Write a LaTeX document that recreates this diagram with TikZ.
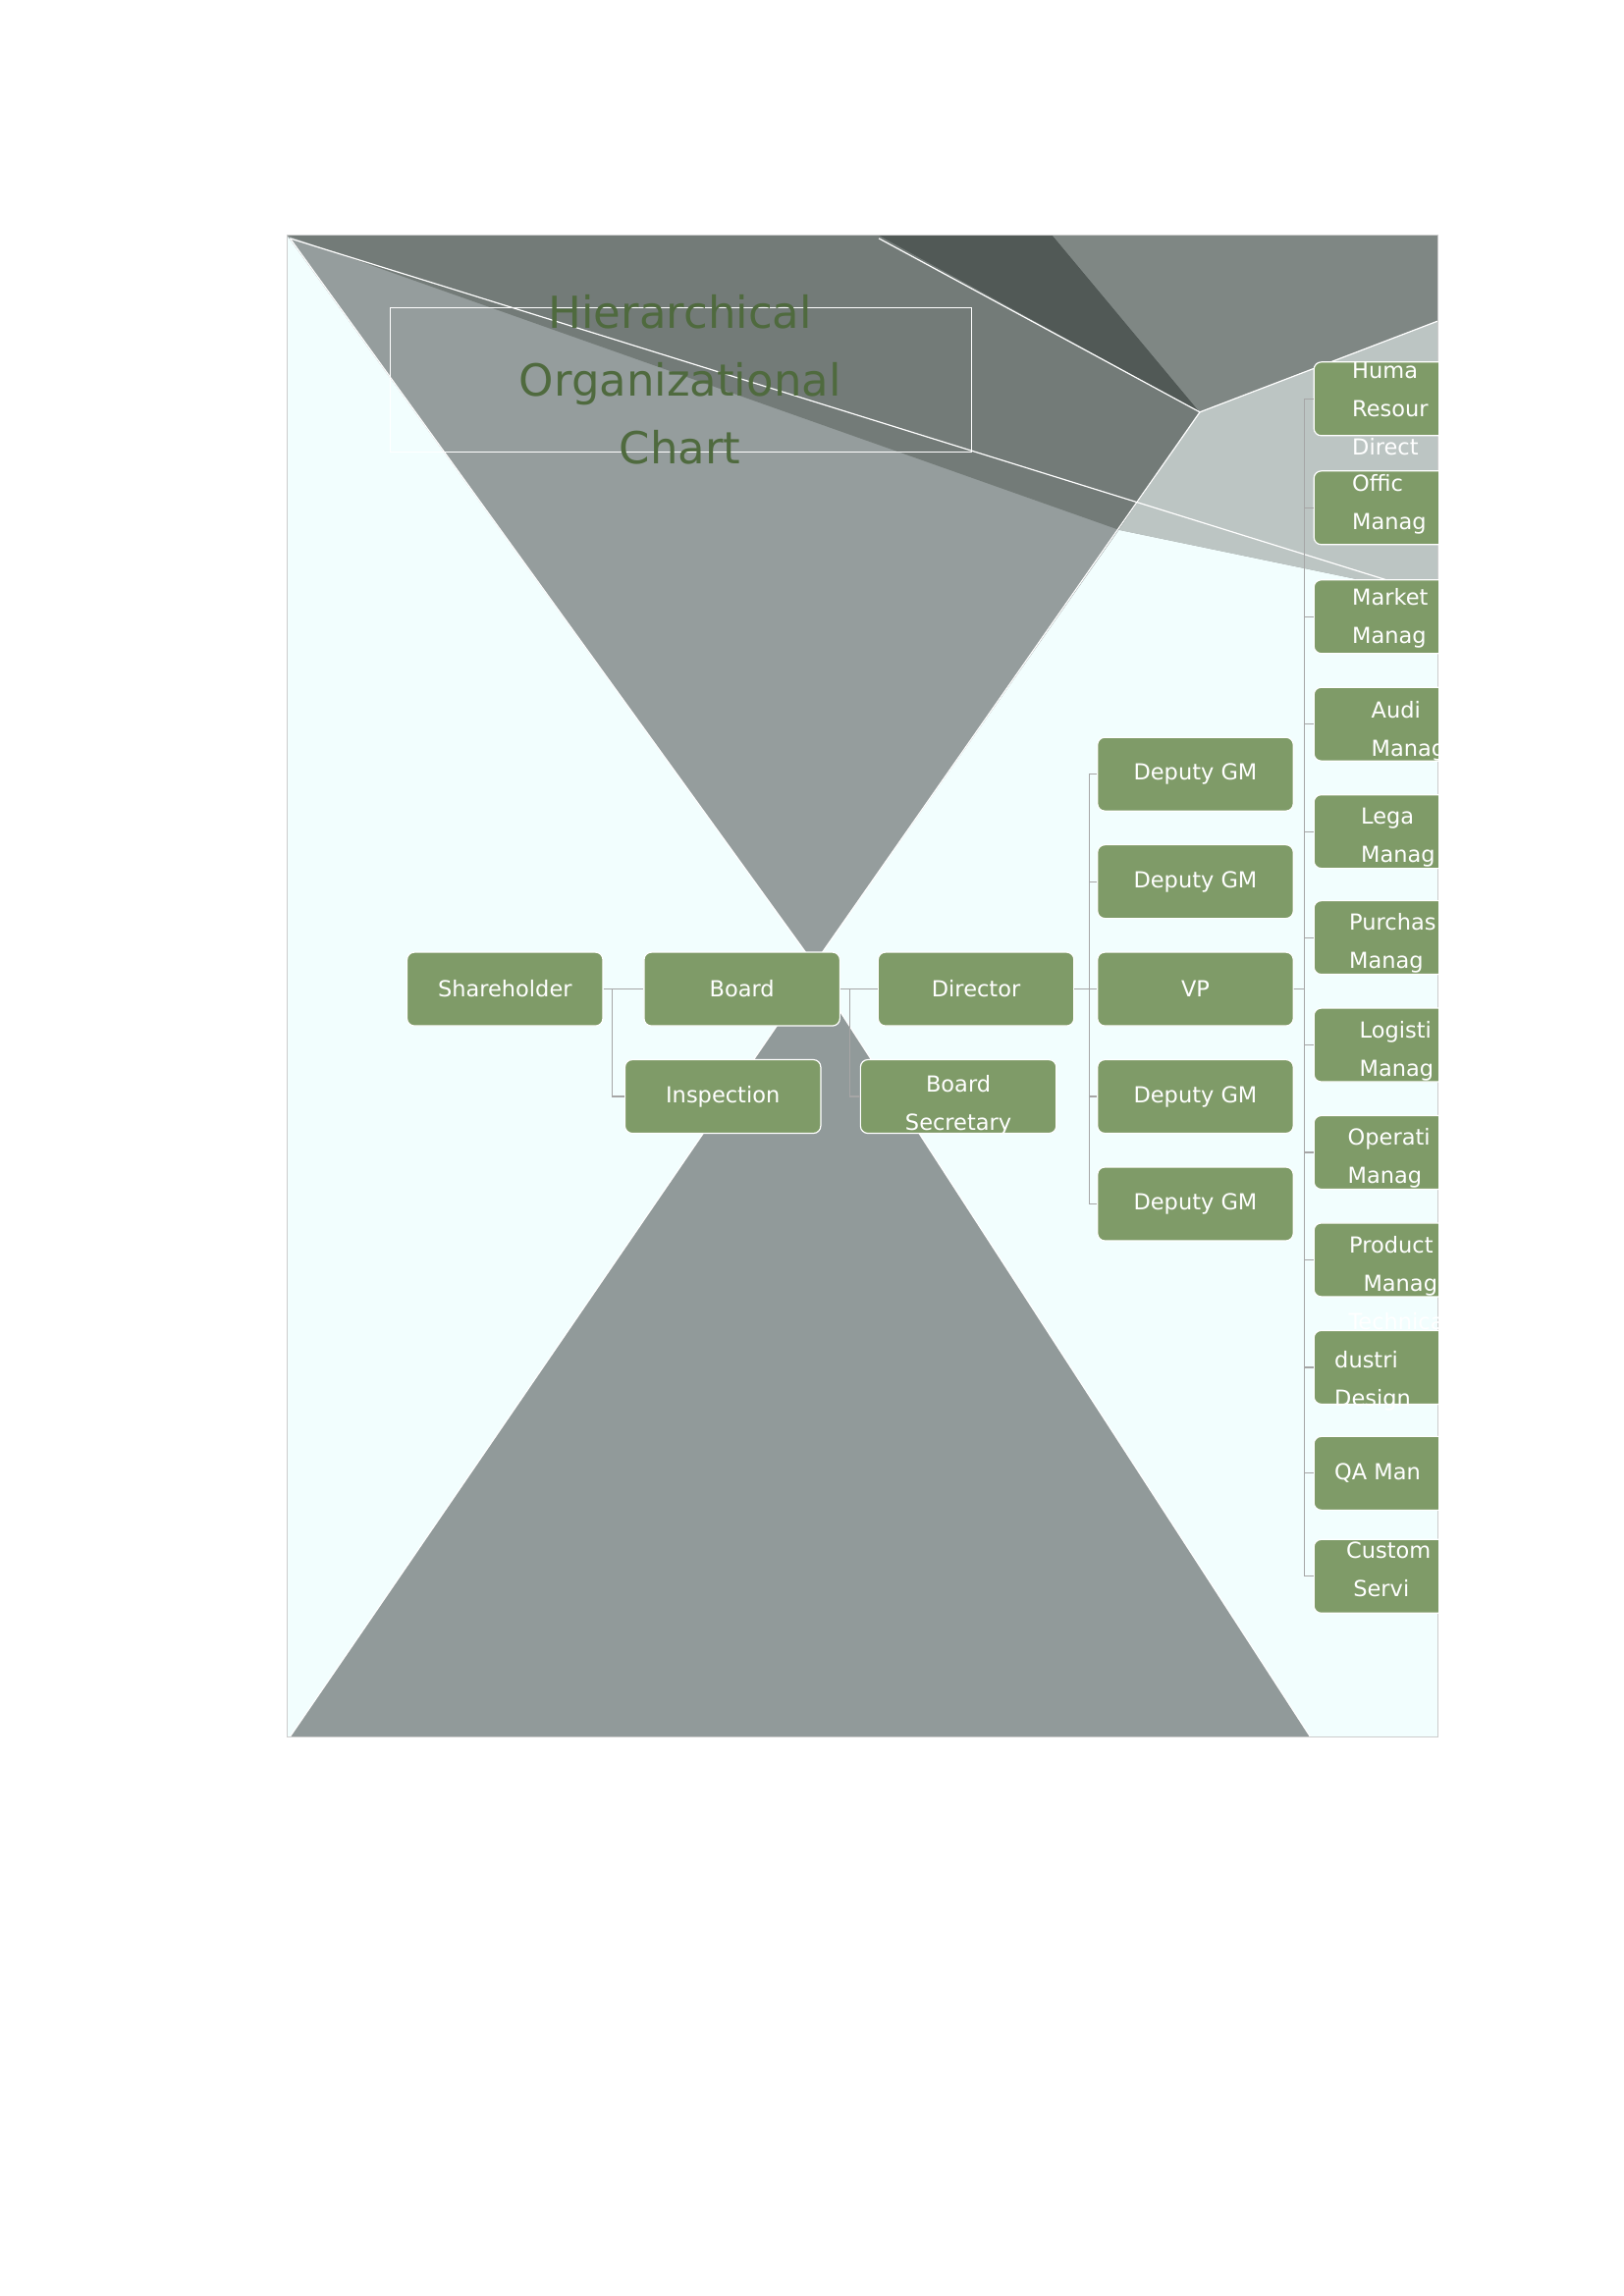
\documentclass[tikz,border=0pt]{standalone}
\usepackage{fontspec}
\setmainfont{DejaVu Sans}
\begin{document}
\begin{tikzpicture}[x=1pt,y=-1pt,
  box/.style={draw=white,line width=0.8pt,fill=green!30!black!50!gray,fill=boxg,rounded corners=5pt,minimum width=133pt,minimum height=50pt,text=white,font=\fontsize{15}{26}\selectfont,align=center,inner sep=0pt},
  conn/.style={draw=gray!70,line width=0.8pt},
  edge/.style={draw=white,line width=0.8pt}]
\definecolor{boxg}{HTML}{7F9B68}
\definecolor{bgc}{HTML}{F2FEFE}
\definecolor{gA}{HTML}{959D9D}
\definecolor{gB}{HTML}{737B78}
\definecolor{gC}{HTML}{515956}
\definecolor{gD}{HTML}{7F8784}
\definecolor{gE}{HTML}{BCC5C3}
\definecolor{gF}{HTML}{919A9A}
\definecolor{titleg}{HTML}{4F6A3E}
\useasboundingbox (0,0) rectangle (1103,1560);
\fill[white] (0,0) rectangle (1103,1560);
\fill[bgc] (195,160) rectangle (977,1180);
\fill[gA] (195,160)--(977,160)--(977,405)--(760,360)--(553,655)--cycle;
\fill[gB] (195,160)--(597,160)--(815,280)--(760,360)--cycle;
\fill[gC] (597,160)--(715,160)--(815,280)--cycle;
\fill[gD] (715,160)--(977,160)--(977,218)--(815,280)--cycle;
\fill[gE] (815,280)--(977,218)--(977,405)--(760,360)--cycle;
\fill[gF] (553,660)--(890,1180)--(197,1180)--cycle;
\draw[edge] (197,162)--(977,405);
\draw[edge] (597,162)--(815,280)--(977,218);
\draw[edge] (815,280)--(553,655)--(197,162);
\draw[edge] (197,1180)--(553,660)--(890,1180);
\draw[gray!40,line width=0.8pt] (195,160) rectangle (977,1180);
% title
\draw[white,line width=0.8pt] (265,209) rectangle (660,307);
\node[text=titleg,font=\fontsize{30}{46}\selectfont,align=center,anchor=north] (title) at (462,197) {Hierarchical\\Organizational\\Chart};
% nodes
\node[box] (sh) at (343,672) {Shareholder};
\node[box] (bd) at (504,672) {Board};
\node[box] (in) at (491,745) {Inspection};
\node[box] (di) at (663,672) {Director};
\node[box,text height=0pt] (bs) at (651,745) {};
\node[text=white,font=\fontsize{15}{26}\selectfont,align=center] (bst) at (651,751) {Board\\Secretary};
\node[box] (vp) at (812,672) {VP};
\node[box] (d1) at (812,526) {Deputy GM};
\node[box] (d2) at (812,599) {Deputy GM};
\node[box] (d3) at (812,745) {Deputy GM};
\node[box] (d4) at (812,818) {Deputy GM};
% connectors
\draw[conn] (sh.east)--(bd.west);
\draw[conn] (sh.east)-|(416,745)--(in.west);
\draw[conn] (bd.east)--(di.west);
\draw[conn] (bd.east)-|(577,745)--(bs.west);
\foreach \n in {vp,d1,d2,d3,d4}{\draw[conn] (di.east)-|(740,0|-\n.west)--(\n.west);}
% right column
\begin{scope}
\clip (0,0) rectangle (977,1560);
\foreach \nm/\y in {r1/271,r2/345,r3/419,r4/492,r5/565,r6/637,r7/710,r8/783,r9/856,r10/929,r11/1001,r12/1071}{
  \node[box] (\nm) at (959,\y) {};
  \draw[conn] (vp.east)-|(886,\y)--(\nm.west);
}
\tikzset{rt/.style={text=white,font=\fontsize{15}{26}\selectfont,align=left,anchor=west}}
\node[rt] at (915,278) {Huma\\Resour\\Direct};
\node[rt] at (915,343) {Offic\\Manag};
\node[rt] at (915,420) {Market\\Manag};
\node[rt] at (928,497) {Audi\\Manag};
\node[rt] at (921,569) {Lega\\Manag};
\node[rt] at (913,641) {Purchas\\Manag};
\node[rt] at (920,714) {Logisti\\Manag};
\node[rt] at (912,787) {Operati\\Manag};
\node[rt] at (913,860) {Product\\ \ \ Manag};
\node[rt] at (903,925) {\ \ Technica\\dustri\\Design};
\node[rt] at (903,1001) {QA Man};
\node[rt] at (911,1066) {Custom\\ \ Servi};
\end{scope}
\end{tikzpicture}
\end{document}
